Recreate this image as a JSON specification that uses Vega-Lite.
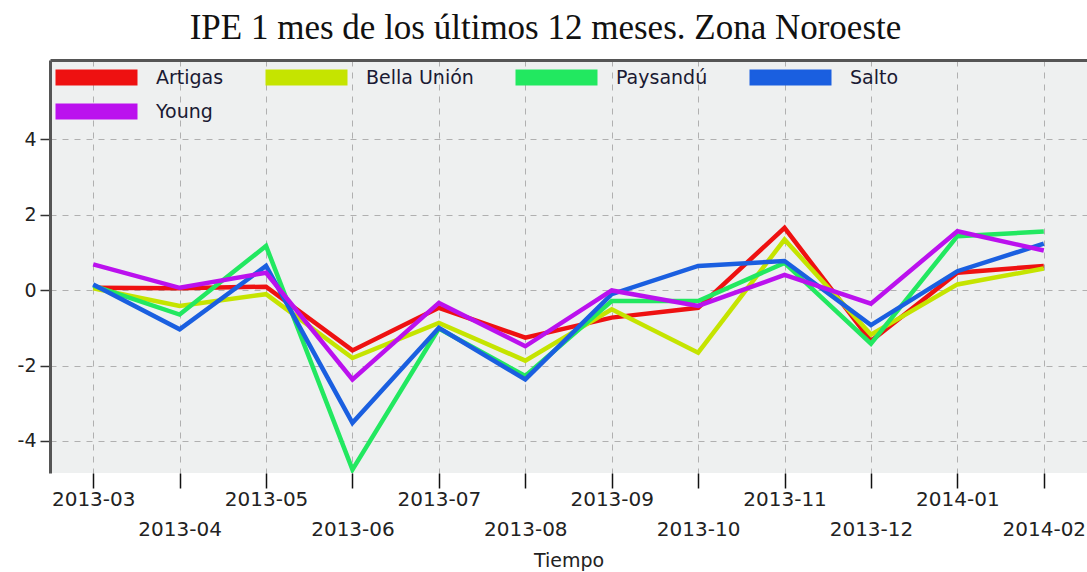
{
  "$schema": "https://vega.github.io/schema/vega-lite/v6.json",
  "autosize": {"type": "none"},
  "padding": {"left": 50, "top": 60, "right": 0, "bottom": 99},
  "width": 1037,
  "height": 413,
  "background": "white",
  "title": {
    "text": "IPE 1 mes de los últimos 12 meses. Zona Noroeste",
    "font": "Liberation Serif",
    "fontSize": 35,
    "fontWeight": "normal",
    "color": "#111111",
    "anchor": "middle",
    "dx": -23,
    "offset": 14
  },
  "config": {
    "view": {"fill": "#eef0f0", "stroke": null},
    "font": "DejaVu Sans",
    "legend": {"symbolStrokeColor": "#111111", "symbolStrokeWidth": 2}
  },
  "data": {
    "values": [
      {"mes": "2013-03", "zona": "Artigas", "ipe": 0.06},
      {"mes": "2013-04", "zona": "Artigas", "ipe": 0.05},
      {"mes": "2013-05", "zona": "Artigas", "ipe": 0.09},
      {"mes": "2013-06", "zona": "Artigas", "ipe": -1.6},
      {"mes": "2013-07", "zona": "Artigas", "ipe": -0.47},
      {"mes": "2013-08", "zona": "Artigas", "ipe": -1.26},
      {"mes": "2013-09", "zona": "Artigas", "ipe": -0.73},
      {"mes": "2013-10", "zona": "Artigas", "ipe": -0.47},
      {"mes": "2013-11", "zona": "Artigas", "ipe": 1.65},
      {"mes": "2013-12", "zona": "Artigas", "ipe": -1.35},
      {"mes": "2014-01", "zona": "Artigas", "ipe": 0.46},
      {"mes": "2014-02", "zona": "Artigas", "ipe": 0.64},
      {"mes": "2013-03", "zona": "Bella Unión", "ipe": 0.05},
      {"mes": "2013-04", "zona": "Bella Unión", "ipe": -0.42},
      {"mes": "2013-05", "zona": "Bella Unión", "ipe": -0.11},
      {"mes": "2013-06", "zona": "Bella Unión", "ipe": -1.8},
      {"mes": "2013-07", "zona": "Bella Unión", "ipe": -0.87},
      {"mes": "2013-08", "zona": "Bella Unión", "ipe": -1.87},
      {"mes": "2013-09", "zona": "Bella Unión", "ipe": -0.51},
      {"mes": "2013-10", "zona": "Bella Unión", "ipe": -1.66},
      {"mes": "2013-11", "zona": "Bella Unión", "ipe": 1.34},
      {"mes": "2013-12", "zona": "Bella Unión", "ipe": -1.18},
      {"mes": "2014-01", "zona": "Bella Unión", "ipe": 0.15},
      {"mes": "2014-02", "zona": "Bella Unión", "ipe": 0.57},
      {"mes": "2013-03", "zona": "Paysandú", "ipe": 0.12},
      {"mes": "2013-04", "zona": "Paysandú", "ipe": -0.65},
      {"mes": "2013-05", "zona": "Paysandú", "ipe": 1.17},
      {"mes": "2013-06", "zona": "Paysandú", "ipe": -4.76},
      {"mes": "2013-07", "zona": "Paysandú", "ipe": -1.02},
      {"mes": "2013-08", "zona": "Paysandú", "ipe": -2.28},
      {"mes": "2013-09", "zona": "Paysandú", "ipe": -0.29},
      {"mes": "2013-10", "zona": "Paysandú", "ipe": -0.29},
      {"mes": "2013-11", "zona": "Paysandú", "ipe": 0.72},
      {"mes": "2013-12", "zona": "Paysandú", "ipe": -1.42},
      {"mes": "2014-01", "zona": "Paysandú", "ipe": 1.43},
      {"mes": "2014-02", "zona": "Paysandú", "ipe": 1.55},
      {"mes": "2013-03", "zona": "Salto", "ipe": 0.15},
      {"mes": "2013-04", "zona": "Salto", "ipe": -1.04},
      {"mes": "2013-05", "zona": "Salto", "ipe": 0.64},
      {"mes": "2013-06", "zona": "Salto", "ipe": -3.52},
      {"mes": "2013-07", "zona": "Salto", "ipe": -1.0},
      {"mes": "2013-08", "zona": "Salto", "ipe": -2.37},
      {"mes": "2013-09", "zona": "Salto", "ipe": -0.11},
      {"mes": "2013-10", "zona": "Salto", "ipe": 0.64},
      {"mes": "2013-11", "zona": "Salto", "ipe": 0.77},
      {"mes": "2013-12", "zona": "Salto", "ipe": -0.93},
      {"mes": "2014-01", "zona": "Salto", "ipe": 0.5},
      {"mes": "2014-02", "zona": "Salto", "ipe": 1.23},
      {"mes": "2013-03", "zona": "Young", "ipe": 0.68},
      {"mes": "2013-04", "zona": "Young", "ipe": 0.06},
      {"mes": "2013-05", "zona": "Young", "ipe": 0.46},
      {"mes": "2013-06", "zona": "Young", "ipe": -2.37},
      {"mes": "2013-07", "zona": "Young", "ipe": -0.34},
      {"mes": "2013-08", "zona": "Young", "ipe": -1.49},
      {"mes": "2013-09", "zona": "Young", "ipe": -0.01},
      {"mes": "2013-10", "zona": "Young", "ipe": -0.42},
      {"mes": "2013-11", "zona": "Young", "ipe": 0.4},
      {"mes": "2013-12", "zona": "Young", "ipe": -0.36},
      {"mes": "2014-01", "zona": "Young", "ipe": 1.56},
      {"mes": "2014-02", "zona": "Young", "ipe": 1.05}
    ]
  },
  "layer": [
    {
      "mark": {"type": "square", "size": 0, "filled": true, "stroke": "#111111", "strokeWidth": 2, "opacity": 1},
      "encoding": {
        "x": {
          "field": "mes",
          "type": "ordinal",
          "scale": {"type": "point", "padding": 0.5},
          "axis": {
            "orient": "top",
            "title": null,
            "labels": false,
            "ticks": false,
            "grid": false,
            "domain": true,
            "domainColor": "#555555",
            "domainWidth": 3
          }
        },
        "y": {"field": "ipe", "type": "quantitative"},
        "fill": {
          "field": "zona",
          "type": "nominal",
          "scale": {
            "domain": ["Artigas", "Bella Unión", "Paysandú", "Salto", "Young"],
            "range": ["#ee1111", "#c5e400", "#22e860", "#1a5fe0", "#bb11ee"]
          },
          "legend": {
            "title": null,
            "orient": "none",
            "legendX": 37,
            "legendY": 8,
            "padding": 0,
            "direction": "horizontal",
            "columns": 4,
            "gridAlign": "none",
            "columnPadding": 38,
            "rowPadding": 11,
            "symbolType": "M-5.714,-1L5.714,-1L5.714,1L-5.714,1Z",
            "symbolSize": 196,
            "symbolStrokeColor": "#111111",
            "symbolStrokeWidth": 2,
            "symbolOpacity": 1,
            "labelFont": "DejaVu Sans",
            "labelFontSize": 19,
            "labelColor": "#1a1a33",
            "labelOffset": 50,
            "labelLimit": 300
          }
        }
      }
    },
    {
      "mark": {"type": "line", "strokeWidth": 4.5, "strokeJoin": "miter", "clip": true},
      "encoding": {
        "x": {
          "field": "mes",
          "type": "ordinal",
          "scale": {"type": "point", "padding": 0.5},
          "axis": {
            "orient": "bottom",
            "title": "Tiempo",
            "titleFont": "DejaVu Sans",
            "titleFontSize": 19,
            "titleFontWeight": "normal",
            "titleColor": "#222222",
            "titlePadding": 12,
            "labelAngle": 0,
            "labelFont": "DejaVu Sans",
            "labelFontSize": 20,
            "labelColor": "#222222",
            "labelPadding": 1,
            "labelLineHeight": 30,
            "labelOverlap": false,
            "labelExpr": "toNumber(substring(datum.value, 5, 7)) % 2 == 0 ? ['', datum.label] : datum.label",
            "domain": false,
            "ticks": true,
            "tickSize": 15,
            "tickColor": "#111111",
            "tickWidth": 1.5,
            "grid": true,
            "gridColor": "#b0b0b0",
            "gridDash": [6, 6],
            "gridWidth": 1
          }
        },
        "y": {
          "field": "ipe",
          "type": "quantitative",
          "scale": {"domain": [-4.85, 6.1], "nice": false, "zero": false},
          "axis": {
            "title": null,
            "values": [-4, -2, 0, 2, 4],
            "labelExpr": "'' + datum.value",
            "labelFont": "DejaVu Sans",
            "labelFontSize": 19,
            "labelColor": "#222222",
            "labelPadding": 4,
            "domain": true,
            "domainColor": "#555555",
            "domainWidth": 3,
            "tickSize": 10,
            "tickColor": "#333333",
            "tickWidth": 1.5,
            "grid": true,
            "gridColor": "#b0b0b0",
            "gridDash": [6, 6],
            "gridWidth": 1
          }
        },
        "stroke": {
          "field": "zona",
          "type": "nominal",
          "scale": {
            "domain": ["Artigas", "Bella Unión", "Paysandú", "Salto", "Young"],
            "range": ["#ee1111", "#c5e400", "#22e860", "#1a5fe0", "#bb11ee"]
          },
          "legend": null
        }
      }
    }
  ],
  "resolve": {"axis": {"x": "independent"}}
}
